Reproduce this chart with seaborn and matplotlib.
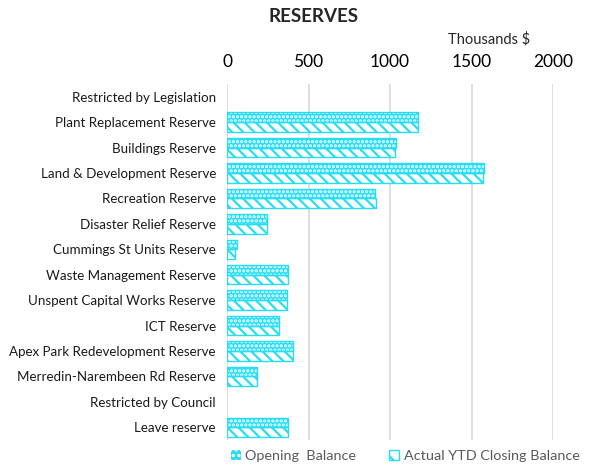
import pandas as pd
import seaborn as sns
import matplotlib.pyplot as plt
from matplotlib.patches import Patch

categories = [
    "Restricted by Legislation",
    "Plant Replacement Reserve",
    "Buildings Reserve",
    "Land & Development Reserve",
    "Recreation Reserve",
    "Disaster Relief Reserve",
    "Cummings St Units Reserve",
    "Waste Management Reserve",
    "Unspent Capital Works Reserve",
    "ICT Reserve",
    "Apex Park Redevelopment Reserve",
    "Merredin-Narembeen Rd Reserve",
    "Restricted by Council",
    "Leave reserve",
]
opening = [0, 1173, 1035, 1577, 910, 247, 59, 376, 368, 319, 403, 182, 0, 372]
closing = [0, 1173, 1031, 1573, 912, 247, 47, 374, 368, 319, 403, 182, 0, 372]
series = ["Opening  Balance", "Actual YTD Closing Balance"]

CYAN = "#26DDF6"

df = pd.DataFrame({"cat": categories * 2,
                   "val": opening + closing,
                   "series": [series[0]] * len(categories) + [series[1]] * len(categories)})

sns.set_style("white")
plt.rcParams["font.family"] = ["Lato", "DejaVu Sans"]
plt.rcParams["hatch.linewidth"] = 1.6

fig = plt.figure(figsize=(6.02, 4.65), dpi=100)
ax = fig.add_axes([227 / 602, 25 / 465, 326 / 602, 356 / 465])

sns.barplot(data=df, y="cat", x="val", hue="series", order=categories,
            hue_order=series, orient="h", width=0.76, ax=ax,
            palette=[CYAN, "white"], legend=False)

n = len(categories)
for i, p in enumerate(ax.patches[:2 * n]):
    if p.get_width() <= 0:
        p.set_visible(False)
        continue
    if i < n:
        p.set_facecolor(CYAN)
        p.set_edgecolor("white")
        p.set_hatch("....")
        p.set_linewidth(0)
        # cyan border on top of the dotted bar
        ax.add_patch(plt.Rectangle(p.get_xy(), p.get_width(), p.get_height(),
                                   fill=False, edgecolor=CYAN, lw=1.0))
    else:
        p.set_facecolor("white")
        p.set_edgecolor(CYAN)
        p.set_hatch("\\\\\\")
        p.set_linewidth(1.0)

ax.set_xlim(0, 2000)
ax.set_xticks([0, 500, 1000, 1500, 2000])
ax.xaxis.tick_top()
ax.tick_params(axis="x", length=0, labelsize=12.5, pad=10, labelcolor="black")
ax.tick_params(axis="y", length=0, labelsize=9.6, pad=8, labelcolor="#1a1a1a")
ax.grid(axis="x", color="#D9D9D9", lw=1.2)
ax.set_axisbelow(True)
for s in ax.spines.values():
    s.set_visible(False)
ax.set_xlabel("")
ax.set_ylabel("")

fig.text(314 / 602, 1 - 17 / 465, "RESERVES", ha="center", va="center",
         fontsize=13.5, fontweight="bold")
fig.text(489 / 602, 1 - 39 / 465, "Thousands $", ha="center", va="center",
         fontsize=10.5)

handles = [Patch(facecolor=CYAN, edgecolor="white", hatch="...", lw=0),
           Patch(facecolor="white", edgecolor=CYAN, hatch="\\\\", lw=1)]
fig.legend(handles, series, loc="center", bbox_to_anchor=(405 / 602, 1 - 456 / 465),
           ncol=2, frameon=False, fontsize=10.4, labelcolor="#595959",
           handlelength=0.7, handleheight=0.7, handletextpad=0.3, columnspacing=2.3)

fig.savefig("out.png", dpi=100)
